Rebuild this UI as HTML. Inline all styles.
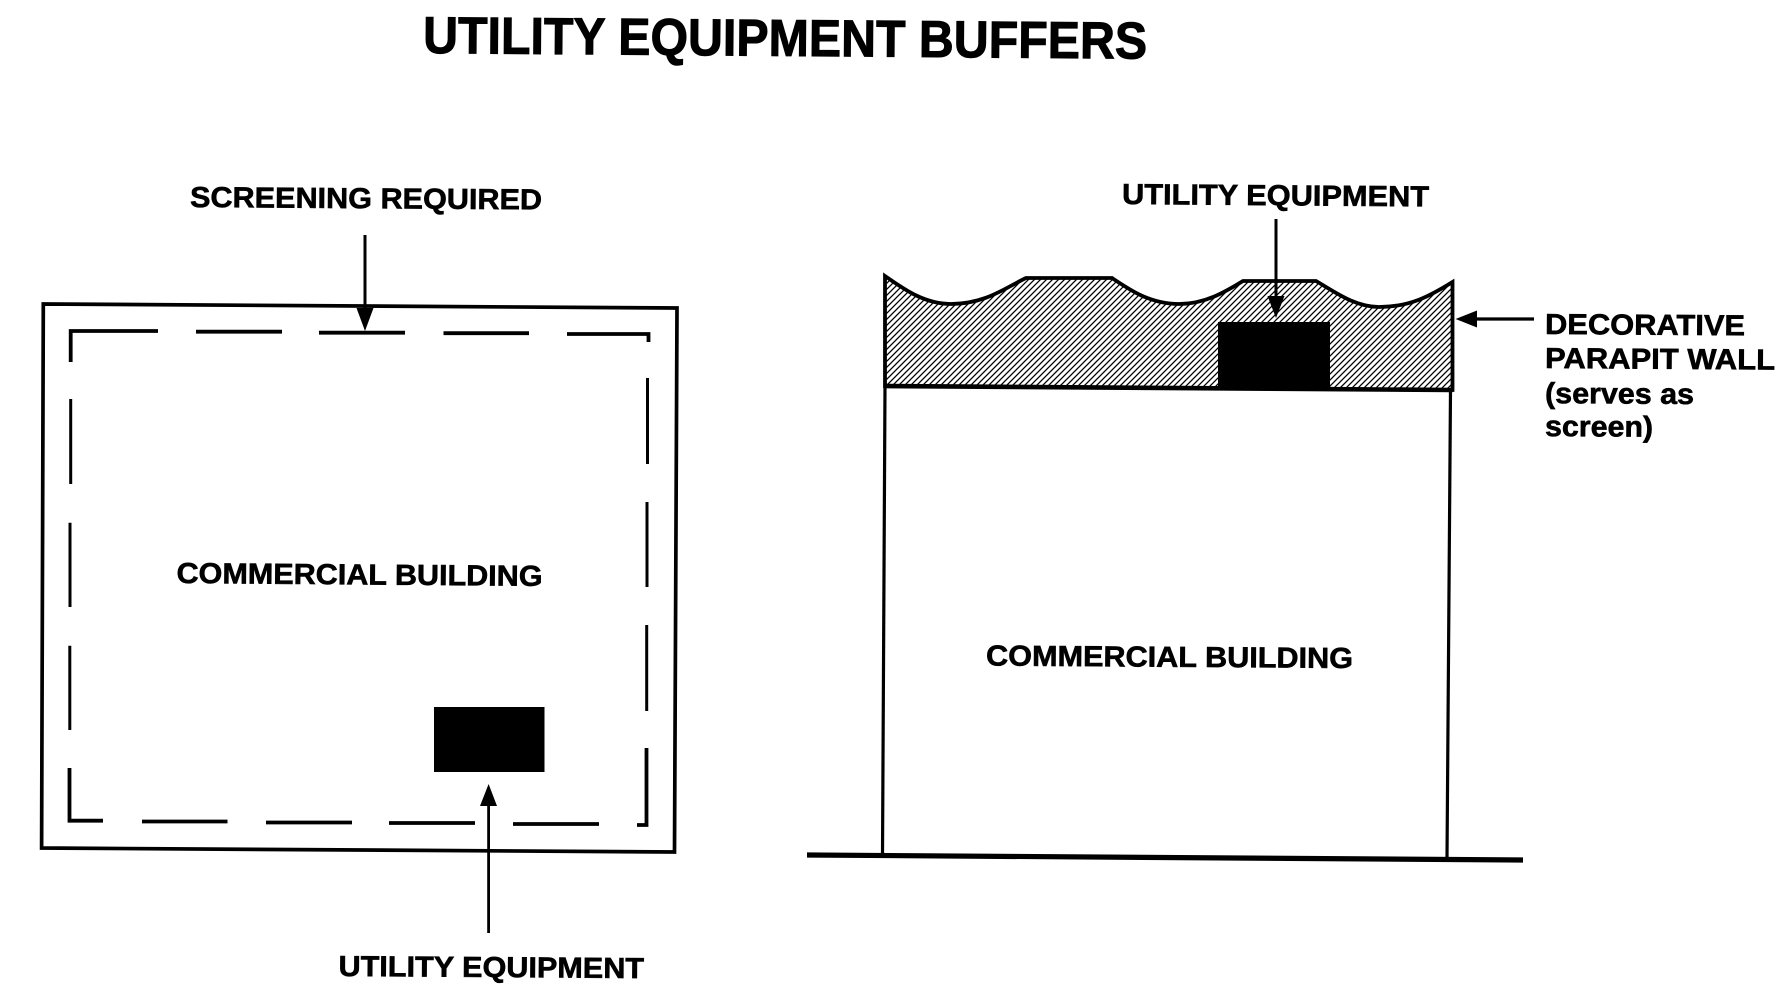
<!DOCTYPE html>
<html>
<head>
<meta charset="utf-8">
<title>Utility Equipment Buffers</title>
<style>
html,body{margin:0;padding:0;background:#fff;width:1788px;height:1000px;overflow:hidden}
svg{display:block}
text{font-family:"Liberation Sans",sans-serif;font-weight:bold;fill:#000;stroke:#000;stroke-width:.6}
</style>
</head>
<body>
<svg width="1788" height="1000" viewBox="0 0 1788 1000" xmlns="http://www.w3.org/2000/svg">
<defs>
<pattern id="h" width="6" height="6" patternUnits="userSpaceOnUse">
<path d="M-1 1L1 -1M0 6L6 0M5 7L7 5" stroke="#000" stroke-width="1.3" fill="none"/>
</pattern>
</defs>
<rect width="1788" height="1000" fill="#fff"/>

<!-- Title -->
<text transform="translate(423,53) rotate(0.45)" font-size="52" textLength="724" lengthAdjust="spacingAndGlyphs" style="stroke-width:1">UTILITY EQUIPMENT BUFFERS</text>

<!-- Left plan -->
<g fill="none" stroke="#000">
<path d="M43.300 304L677 308L674.500 852L41.600 848Z" stroke-width="3.7"/>
<g stroke-width="3.800">
<path d="M70.700 362V331H158"/>
<path d="M196 331.700H282"/>
<path d="M319 332.700H405"/>
<path d="M443.500 333.200H529"/>
<path d="M567 334H648.500V342"/>
<path d="M637 825H646.500V748"/>
<path d="M513 824H599"/>
<path d="M389 823H475"/>
<path d="M266 822.500H352"/>
<path d="M142 821.500H227.500"/>
<path d="M103 820.700H69.500V768"/>
</g>
<g stroke-width="3">
<path d="M70.700 399V484"/>
<path d="M70 522.700V607"/>
<path d="M69.800 645.700V730"/>
<path d="M647.500 378V464"/>
<path d="M647 502V587"/>
<path d="M646.700 625V711"/>
</g>
<path d="M365 235V312" stroke-width="3"/>
<path d="M488.600 804V933" stroke-width="2.800"/>
</g>
<path d="M356.500 308H373.500L365 331Z" fill="#000"/>
<path d="M480 806H497L488.600 784Z" fill="#000"/>
<rect x="434" y="707" width="110.500" height="65" fill="#000"/>

<text transform="translate(190,207) rotate(0.4)" font-size="29" textLength="352" lengthAdjust="spacingAndGlyphs">SCREENING REQUIRED</text>
<text transform="translate(176.500,583) rotate(0.45)" font-size="29" textLength="366" lengthAdjust="spacingAndGlyphs">COMMERCIAL BUILDING</text>
<text transform="translate(338.500,976) rotate(0.4)" font-size="29" textLength="305.500" lengthAdjust="spacingAndGlyphs">UTILITY EQUIPMENT</text>

<!-- Right elevation -->
<path d="M885 276C905 290 925 304 951 304C985 304 1005 288 1026 278L1112 278C1130 290 1150 304 1179 304C1205 304 1225 292 1243 281L1316 281C1335 292 1355 307 1379 307C1410 307 1430 296 1452.500 282L1452.500 390L885 386Z" fill="url(#h)" stroke="#000" stroke-width="3.800" stroke-linejoin="miter"/>
<rect x="1218" y="322" width="112" height="66" fill="#000"/>
<g fill="none" stroke="#000">
<path d="M885 386L1452.500 390" stroke-width="4.600"/>
<path d="M885 386L882.500 855" stroke-width="3.200"/>
<path d="M1450.500 390L1447 858" stroke-width="3.200"/>
<path d="M807 855L1523 860" stroke-width="5.200"/>
<path d="M1276 219V300" stroke-width="3"/>
<path d="M1475 319H1534" stroke-width="3.200"/>
</g>
<path d="M1267.500 296H1284.500L1276 318Z" fill="#000"/>
<path d="M1477 310.500V327.500L1455.600 319Z" fill="#000"/>

<text transform="translate(1122,204) rotate(0.45)" font-size="29" textLength="307" lengthAdjust="spacingAndGlyphs">UTILITY EQUIPMENT</text>
<text transform="translate(986,665.500) rotate(0.4)" font-size="29" textLength="367" lengthAdjust="spacingAndGlyphs">COMMERCIAL BUILDING</text>
<text transform="translate(1545,334) rotate(0.4)" font-size="29" textLength="200" lengthAdjust="spacingAndGlyphs">DECORATIVE</text>
<text transform="translate(1545,368) rotate(0.4)" font-size="29" textLength="230" lengthAdjust="spacingAndGlyphs">PARAPIT WALL</text>
<text transform="translate(1545,403) rotate(0.4)" font-size="29" textLength="149" lengthAdjust="spacingAndGlyphs">(serves as</text>
<text transform="translate(1545,436) rotate(0.4)" font-size="29" textLength="108" lengthAdjust="spacingAndGlyphs">screen)</text>
</svg>
</body>
</html>
